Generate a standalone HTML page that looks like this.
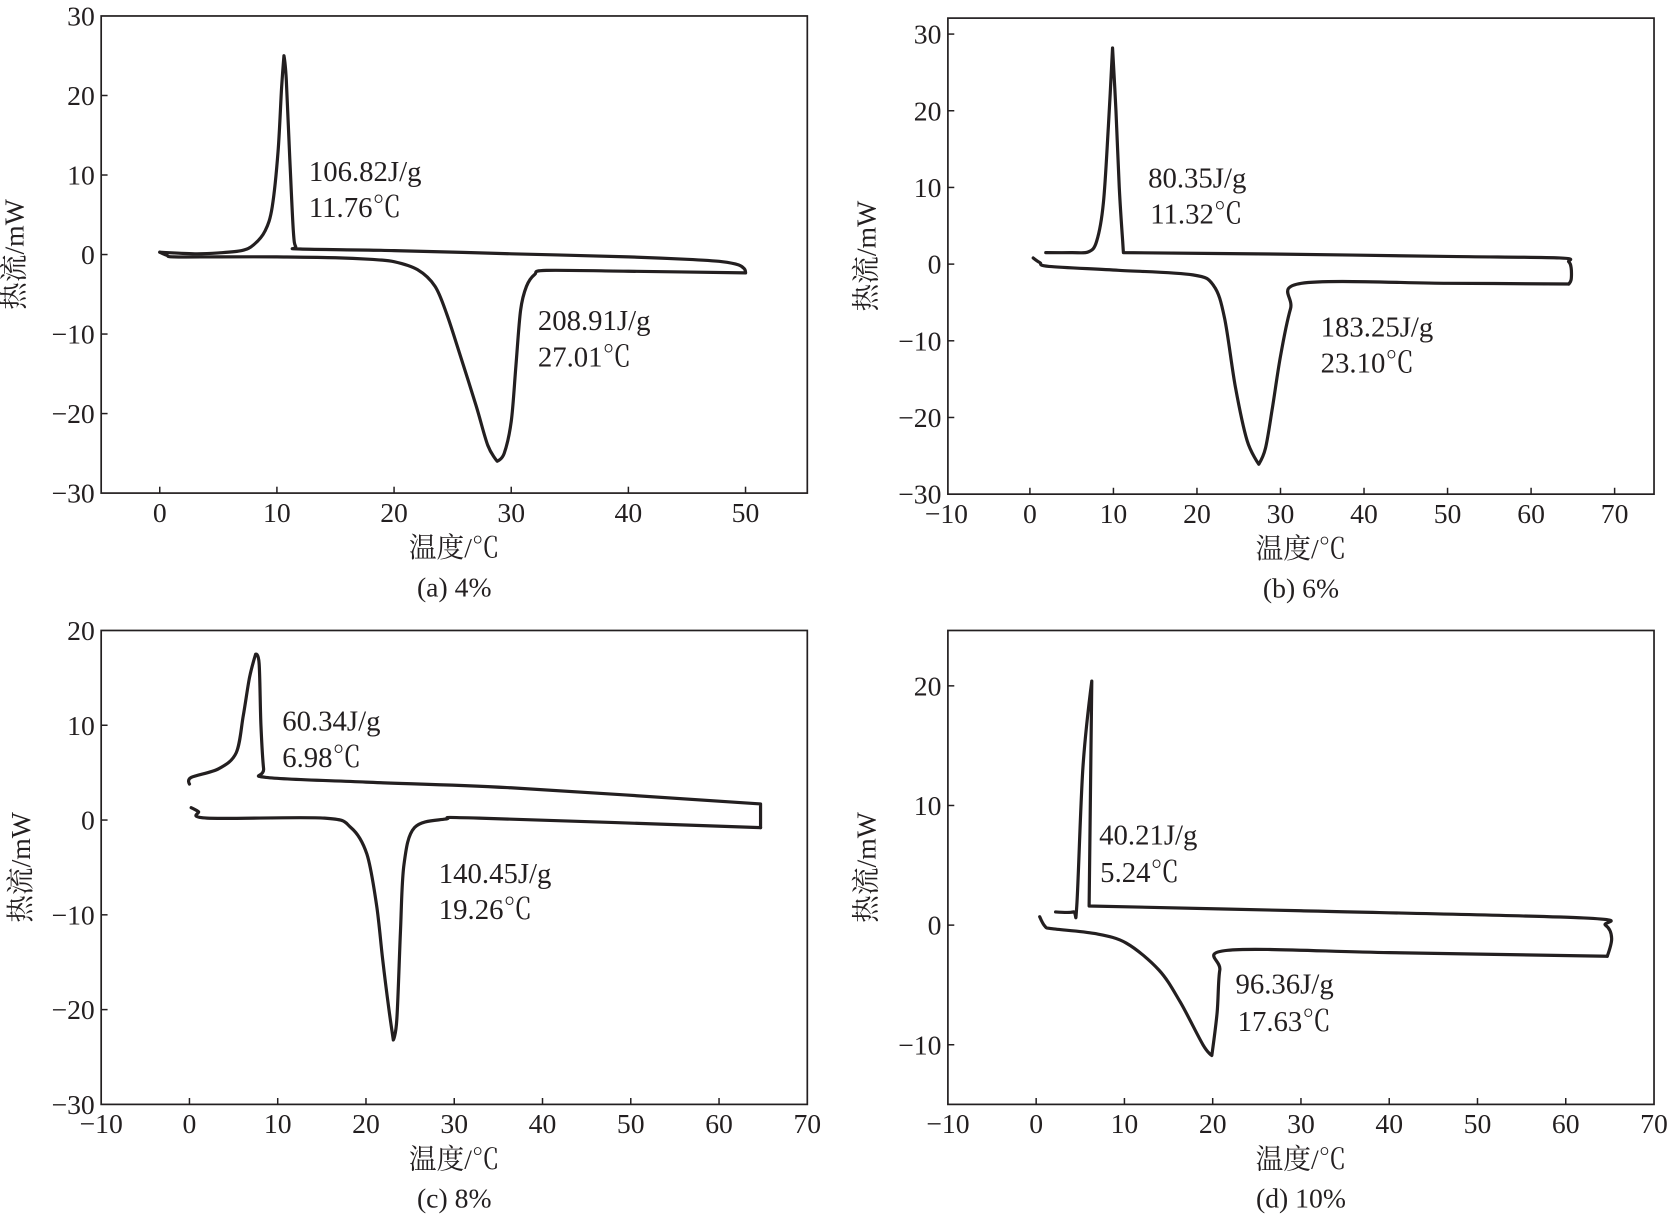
<!DOCTYPE html>
<html><head><meta charset="utf-8"><style>
html,body{margin:0;padding:0;background:#fff;}
svg{display:block;}
text{font-family:"Liberation Serif","Noto Serif CJK SC",serif;fill:#231f20;}
</style></head><body>
<svg id="fig" width="1670" height="1229" viewBox="0 0 1568 1154" preserveAspectRatio="none" xmlns="http://www.w3.org/2000/svg"></svg>
<script>
// Panel (a) 4%
const aXTicks=[0,10,20,30,40,50];
const aYTicks=[30,20,10,0,-10,-20,-30];
const aCoolX=[0,3,5,7,8,9,9.6,10.1,10.4,10.6,10.8,11.1,11.4,11.6,12,20,30,40,45,48,49.4,49.9,50];
const aCoolY=[0.3,0.1,0.2,0.5,1.2,3,6,13,21,25,22,12,3,1,0.7,0.5,0.1,-0.3,-0.6,-0.9,-1.3,-1.8,-2.3];
const aHeatX=[0,0.6,1.2,5,10,15,18,20,22,23.5,24.5,25.5,27,28,28.8,29.4,30,30.4,30.8,31.3,32,33,40,50];
const aHeatY=[0.3,-0.1,-0.3,-0.3,-0.3,-0.4,-0.6,-0.9,-1.9,-4,-7.5,-12,-19,-24,-26,-25,-21,-14,-7,-4,-2.5,-2,-2.1,-2.3];
// Panel (b) 6%
const bXTicks=[-10,0,10,20,30,40,50,60,70];
const bYTicks=[30,20,10,0,-10,-20,-30];
const bCoolX=[1.9,5,7,8,8.8,9.4,9.9,10.3,10.7,11.1,11.2,30,50,63.4,64.5,64.8,64.8,64.5];
const bCoolY=[1.5,1.5,1.6,3,8,18,28.2,20,10,3,1.5,1.3,1,0.8,0.3,-0.5,-2,-2.6];
const bHeatX=[0.4,1.2,2.3,10.6,19.5,22,23.3,24.6,26,27.4,28.2,29,30,31.2,32.5,50,64.5];
const bHeatY=[0.8,0.2,-0.3,-0.8,-1.4,-2.8,-7,-16,-23,-26.1,-24,-19,-12,-5.8,-2.5,-2.5,-2.6];
// Panel (c) 8%
const cXTicks=[-10,0,10,20,30,40,50,60,70];
const cYTicks=[20,10,0,-10,-20,-30];
const cCoolX=[0,0.2,3.3,5.3,6.1,6.8,7.5,7.9,8.1,8.4,8.7,20,36.4,64.7,64.7];
const cCoolY=[3.8,4.5,5.4,7.1,11,15,17.5,16.5,10,5.4,4.5,4,3.4,1.7,-0.8];
const cHeatX=[0.2,1,2,15.3,18.3,20.1,21.2,21.9,22.6,23.1,23.5,23.9,24.3,25.5,29,32.8,64.7];
const cHeatY=[1.3,0.9,0.2,0.2,-0.8,-3.6,-9,-14.8,-20,-23.2,-21,-12,-4.7,-0.8,0.1,0.2,-0.8];
// Panel (d) 10%
const dXTicks=[-10,0,10,20,30,40,50,60,70];
const dYTicks=[20,10,0,-10];
const dCoolX=[2.2,4.2,4.6,5.3,6.3,6.0,30,62,64.5,65.2,64.7];
const dCoolY=[1.1,1.1,1.6,13.2,20.4,1.6,1.2,0.6,0,-1.1,-2.6];
const dHeatX=[0.4,1,1.8,6.6,10.2,13.9,16.3,18.9,19.9,20.5,20.8,21.7,40,64.7];
const dHeatY=[0.7,-0.1,-0.3,-0.7,-1.5,-3.75,-6.4,-10,-10.9,-7.3,-3.75,-2.1,-2.3,-2.6];

const NS='http://www.w3.org/2000/svg';
const fig=document.getElementById('fig');
function el(tag,attrs,parent){const e=document.createElementNS(NS,tag);for(const k in attrs)e.setAttribute(k,attrs[k]);(parent||fig).appendChild(e);return e;}
function isCorner(pts,i){
  if(i===0||i===pts.length-1)return true;
  const a=pts[i-1],b=pts[i],c=pts[i+1];
  const v1=[b[0]-a[0],b[1]-a[1]],v2=[c[0]-b[0],c[1]-b[1]];
  const l1=Math.hypot(v1[0],v1[1]),l2=Math.hypot(v2[0],v2[1]);
  if(l1<1e-6||l2<1e-6)return true;
  const cos=(v1[0]*v2[0]+v1[1]*v2[1])/(l1*l2);
  return cos<0.2;
}
function smoothPath(pts){
  let d='M'+pts[0][0].toFixed(1)+','+pts[0][1].toFixed(1);
  const t=0.16;
  const tan=pts.map((p,i)=>{
    if(isCorner(pts,i))return [0,0];
    return [(pts[i+1][0]-pts[i-1][0])*t,(pts[i+1][1]-pts[i-1][1])*t];
  });
  for(let i=0;i<pts.length-1;i++){
    const p1=pts[i],p2=pts[i+1];
    const c1=[p1[0]+tan[i][0],p1[1]+tan[i][1]];
    const c2=[p2[0]-tan[i+1][0],p2[1]-tan[i+1][1]];
    d+=' C'+c1[0].toFixed(1)+','+c1[1].toFixed(1)+' '+c2[0].toFixed(1)+','+c2[1].toFixed(1)+' '+p2[0].toFixed(1)+','+p2[1].toFixed(1);
  }
  return d;
}
function panel(cfg){
  const g=el('g',{});
  
  
  const sx=v=>cfg.px0+(v-cfg.x0)*(cfg.px1-cfg.px0)/(cfg.x1-cfg.x0);
  const sy=v=>cfg.py0+(v-cfg.y0)*(cfg.py1-cfg.py0)/(cfg.y1-cfg.y0);
  const box=el('rect',{x:cfg.L,y:cfg.T,width:cfg.R-cfg.L,height:cfg.B-cfg.T,fill:'none',stroke:'#231f20','stroke-width':1.6},g);
  
  
  cfg.xt.forEach(v=>{
    const x=sx(v);
    if(x>cfg.L+2&&x<cfg.R-2){const tk=el('line',{x1:x,x2:x,y1:cfg.B,y2:cfg.B-6,stroke:'#231f20','stroke-width':1.4},g);
    
    }
    const t=el('text',{x:x,y:cfg.B+27,'font-size':26,'text-anchor':'middle'},g);
    
    
    t.textContent=v<0?'\u2212'+(-v):String(v);
  });
  cfg.yt.forEach(v=>{
    const y=sy(v);
    if(y>cfg.T+2&&y<cfg.B-2){const tk=el('line',{x1:cfg.L,x2:cfg.L+6,y1:y,y2:y,stroke:'#231f20','stroke-width':1.4},g);
    
    }
    const t=el('text',{x:cfg.L-6,y:y+9,'font-size':26,'text-anchor':'end'},g);
    
    
    t.textContent=v<0?'\u2212'+(-v):String(v);
  });
  const cx=(cfg.L+cfg.R)/2;
  const xl=el('text',{x:cx,y:cfg.B+60,'font-size':26,'text-anchor':'middle'},g);
  
  
  xl.textContent='温度/℃';
  const cap=el('text',{x:cx,y:cfg.B+97,'font-size':26,'text-anchor':'middle'},g);
  
  
  cap.textContent=cfg.caption;
  const ymid=(cfg.T+cfg.B)/2;
  const yl=el('text',{x:cfg.ylx,y:ymid,'font-size':26,'text-anchor':'middle',transform:'rotate(-90 '+cfg.ylx+' '+ymid+')'},g);
  
  
  yl.textContent='热流/mW';
  const mk=(xs,ys,name)=>{
    const pts=xs.map((v,i)=>[sx(v),sy(ys[i])]);
    const p=el('path',{d:smoothPath(pts),fill:'none',stroke:'#231f20','stroke-width':3,'stroke-linejoin':'round','stroke-linecap':'round'},g);
    
    
  };
  mk(cfg.cx,cfg.cy,'cooling-curve');
  mk(cfg.hx,cfg.hy,'heating-curve');
  cfg.notes.forEach(n=>{
    const t=el('text',{x:n[0],y:n[1],'font-size':27},g);
    
    
    t.textContent=n[2];
  });
}
panel({name:'panel-a-4pct',L:95,R:758,T:15,B:463,x0:0,x1:50,px0:150,px1:700,y0:30,y1:-30,py0:15,py1:463,
  xt:aXTicks,yt:aYTicks,cx:aCoolX,cy:aCoolY,hx:aHeatX,hy:aHeatY,caption:'(a) 4%',ylx:22,
  notes:[[290,170,'106.82J/g','crystallization-enthalpy'],[290,204,'11.76℃','crystallization-temp'],[505,310,'208.91J/g','melting-enthalpy'],[505,344,'27.01℃','melting-temp']]});
panel({name:'panel-b-6pct',L:890,R:1553,T:17,B:464,x0:0,x1:70,px0:967,px1:1516,y0:30,y1:-30,py0:32,py1:464,
  xt:bXTicks,yt:bYTicks,cx:bCoolX,cy:bCoolY,hx:bHeatX,hy:bHeatY,caption:'(b) 6%',ylx:822,
  notes:[[1078,176,'80.35J/g','crystallization-enthalpy'],[1080,210,'11.32℃','crystallization-temp'],[1240,316,'183.25J/g','melting-enthalpy'],[1240,350,'23.10℃','melting-temp']]});
panel({name:'panel-c-8pct',L:95,R:758,T:592,B:1037,x0:-10,x1:70,px0:95,px1:758,y0:20,y1:-30,py0:592,py1:1037,
  xt:cXTicks,yt:cYTicks,cx:cCoolX,cy:cCoolY,hx:cHeatX,hy:cHeatY,caption:'(c) 8%',ylx:28,
  notes:[[265,686,'60.34J/g','crystallization-enthalpy'],[265,720,'6.98℃','crystallization-temp'],[412,829,'140.45J/g','melting-enthalpy'],[412,863,'19.26℃','melting-temp']]});
panel({name:'panel-d-10pct',L:890,R:1553,T:592,B:1037,x0:-10,x1:70,px0:890,px1:1553,y0:20,y1:-10,py0:644,py1:981,
  xt:dXTicks,yt:dYTicks,cx:dCoolX,cy:dCoolY,hx:dHeatX,hy:dHeatY,caption:'(d) 10%',ylx:822,
  notes:[[1032,793,'40.21J/g','crystallization-enthalpy'],[1033,828,'5.24℃','crystallization-temp'],[1160,933,'96.36J/g','melting-enthalpy'],[1162,968,'17.63℃','melting-temp']]});
</script>
</body></html>
